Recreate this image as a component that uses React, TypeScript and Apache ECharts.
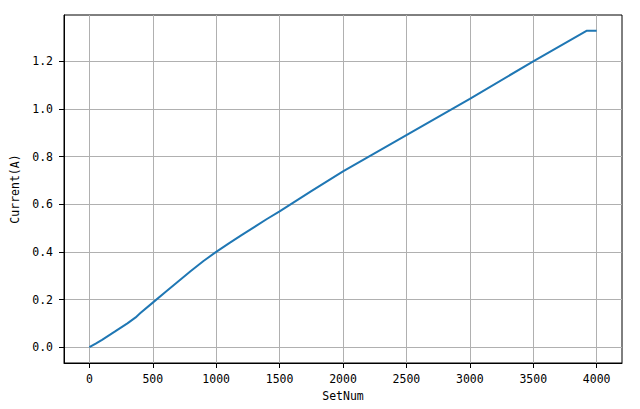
import React, { useEffect, useRef } from "react";
import * as echarts from "echarts";

const setNums = [0, 50, 100, 200, 300, 365, 400, 500, 600, 700, 800, 900, 1000, 1100, 1200, 1300, 1400, 1500, 1750, 2000, 2500, 3000, 3500, 3920, 4000];
const currents = [0, 0.015, 0.031, 0.065, 0.1, 0.125, 0.142, 0.187, 0.232, 0.276, 0.32, 0.362, 0.4, 0.436, 0.47, 0.504, 0.538, 0.57, 0.655, 0.738, 0.89, 1.042, 1.2, 1.328, 1.328];
const xTicks = [0, 500, 1000, 1500, 2000, 2500, 3000, 3500, 4000];
const yTicks = [0, 0.2, 0.4, 0.6, 0.8, 1.0, 1.2];

const FONT = "DejaVu Sans Mono";
const FS = 11.5;

export default function App() {
  const ref = useRef<HTMLDivElement>(null);
  useEffect(() => {
    if (!ref.current) return;
    const chart = echarts.init(ref.current, undefined, { renderer: "svg" });
    const data = setNums.map((x, i) => [x, currents[i]]);
    chart.setOption({
      animation: false,
      backgroundColor: "#ffffff",
      grid: {
        show: true,
        left: 64,
        right: 18,
        top: 15,
        bottom: 46,
        borderColor: "#000000",
        borderWidth: 1,
        backgroundColor: "transparent",
      },
      xAxis: {
        type: "value",
        min: -200,
        max: 4200,
        name: "SetNum",
        nameLocation: "middle",
        nameGap: 27,
        nameTextStyle: { color: "#000", fontFamily: FONT, fontSize: FS },
        axisLine: { show: true, onZero: false, lineStyle: { color: "#000", width: 1 } },
        axisTick: { show: true, length: 5, customValues: xTicks, lineStyle: { color: "#000" } },
        axisLabel: {
          customValues: xTicks,
          color: "#000",
          fontFamily: FONT,
          fontSize: FS,
          margin: 10,
          formatter: (v: number) => String(v),
        },
        splitLine: { show: true, lineStyle: { color: "#b0b0b0", width: 1 } },
      },
      yAxis: {
        type: "value",
        min: -0.0664,
        max: 1.3944,
        name: "Current(A)",
        nameLocation: "middle",
        nameGap: 37,
        nameRotate: 90,
        nameTextStyle: { color: "#000", fontFamily: FONT, fontSize: FS },
        axisLine: { show: true, onZero: false, lineStyle: { color: "#000", width: 1 } },
        axisTick: { show: true, length: 5, customValues: yTicks, lineStyle: { color: "#000" } },
        axisLabel: {
          customValues: yTicks,
          color: "#000",
          fontFamily: FONT,
          fontSize: FS,
          margin: 11,
          formatter: (v: number) => v.toFixed(1),
        },
        splitLine: { show: true, lineStyle: { color: "#b0b0b0", width: 1 } },
      },
      series: [
        {
          type: "line",
          data,
          showSymbol: false,
          symbol: "none",
          lineStyle: { color: "#1f77b4", width: 2 },
          itemStyle: { color: "#1f77b4" },
        },
      ],
    });
    return () => chart.dispose();
  }, []);
  return (
    <div
      ref={ref}
      style={{ position: "fixed", left: 0, top: 0, width: 640, height: 409 }}
    />
  );
}
